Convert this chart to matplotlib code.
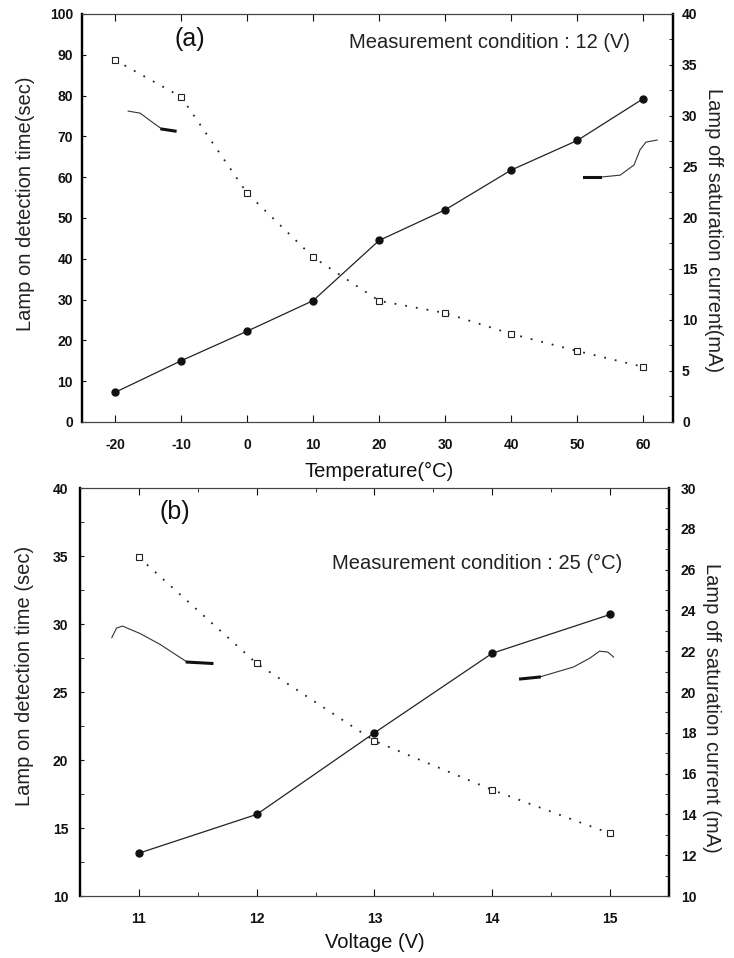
import matplotlib
matplotlib.use("Agg")
import matplotlib.pyplot as plt
from matplotlib.ticker import MultipleLocator
import numpy as np

plt.rcParams['font.family'] = ['Liberation Sans', 'DejaVu Sans']
plt.rcParams['axes.unicode_minus'] = False

# ---------- data: panel (a) ----------
temp = [-20, -10, 0, 10, 20, 30, 40, 50, 60]
on_time_a = [88.7, 79.7, 56.1, 40.4, 29.7, 26.7, 21.6, 17.4, 13.5]     # left axis (sec)
off_curr_a = [2.9, 6.0, 8.9, 11.9, 17.8, 20.8, 24.7, 27.6, 31.7]       # right axis (mA)
temp_ticks = [-20, -10, 0, 10, 20, 30, 40, 50, 60]

# ---------- data: panel (b) ----------
volt = [11, 12, 13, 14, 15]
on_time_b = [34.9, 27.1, 21.4, 17.8, 14.6]        # left axis (sec)
off_curr_b = [12.1, 14.0, 18.0, 21.9, 23.8]       # right axis (mA)
volt_ticks = [11, 12, 13, 14, 15]

# annotation curves (data coords)
ann_a_left_x = [-18.0, -16.2, -14.2, -12.9, -10.9]
ann_a_left_y = [76.2, 75.7, 73.3, 71.8, 71.3]
ann_a_right_x = [51.0, 53.4, 56.5, 58.6, 59.5, 60.4, 62.1]
ann_a_right_y = [60.0, 60.0, 60.5, 63.0, 66.7, 68.6, 69.1]
ann_b_left_x = [10.77, 10.81, 10.86, 11.01, 11.18, 11.41, 11.62]
ann_b_left_y = [29.0, 29.7, 29.85, 29.3, 28.5, 27.2, 27.1]
ann_b_right_x = [14.24, 14.40, 14.69, 14.83, 14.91, 14.98, 15.03]
ann_b_right_y = [25.96, 26.1, 26.84, 27.5, 28.0, 27.94, 27.57]

fig = plt.figure(figsize=(7.34, 9.58), dpi=100)

dot_style = dict(color='#222222', linestyle=(0, (1, 5)), linewidth=1.3)
line_style = dict(color='#222222', linestyle='-', linewidth=0.9)
LABEL_FS = 14.5
TICK_FS = 10


def style_axes(ax, ax2, ypad):
    for a in (ax, ax2):
        for s in ('top', 'bottom'):
            a.spines[s].set_linewidth(0.8)
            a.spines[s].set_color('#444444')
        a.spines['left'].set_linewidth(1.6)
        a.spines['right'].set_linewidth(1.6)
    ax.tick_params(axis='x', which='both', direction='in', top=True, bottom=True,
                   labelsize=TICK_FS, pad=11.5, colors='#111111')
    ax.tick_params(axis='x', which='major', length=5)
    ax.tick_params(axis='x', which='minor', length=3)
    ax.tick_params(axis='y', which='both', direction='in', left=True, right=False,
                   labelsize=TICK_FS, colors='#111111', length=3, pad=ypad)
    ax2.tick_params(axis='y', which='both', direction='in', right=True,
                    labelsize=TICK_FS, colors='#111111', length=3, pad=ypad)
    for lab in ax.get_xticklabels() + ax.get_yticklabels() + ax2.get_yticklabels():
        lab.set_fontweight('bold')


# ---------------- panel (a) ----------------
ax = fig.add_axes([0.1117, 0.5595, 0.8052, 0.4259])
ax2 = ax.twinx()
ax.set_xlim(-25, 64.5)
ax.set_ylim(0, 100)
ax2.set_ylim(0, 40)
ax.set_xticks(temp_ticks)
ax.set_yticks(np.arange(0, 101, 10))
ax2.set_yticks(np.arange(0, 41, 5))
ax2.yaxis.set_minor_locator(MultipleLocator(2.5))
style_axes(ax, ax2, 6.5)

ax.plot(temp, on_time_a, marker='s', markersize=4, markerfacecolor='white',
        markeredgecolor='#222222', markeredgewidth=0.8, **dot_style)
ax2.plot(temp, off_curr_a, marker='o', markersize=5, markerfacecolor='#111111',
         markeredgecolor='#111111', **line_style)

ax.plot(ann_a_left_x, ann_a_left_y, color='#333333', lw=0.8)
ax.plot(ann_a_left_x[-2:], ann_a_left_y[-2:], color='#111111', lw=2.2)
ax.plot(ann_a_right_x, ann_a_right_y, color='#333333', lw=0.8)
ax.plot(ann_a_right_x[:2], ann_a_right_y[:2], color='#111111', lw=2.2)

ax.text(0.183, 0.939, '(a)', transform=ax.transAxes, fontsize=18,
        ha='center', va='center', color='#111111')
ax.text(0.69, 0.929, 'Measurement condition : 12 (V)', transform=ax.transAxes,
        fontsize=LABEL_FS, ha='center', va='center', color='#222222')
ax.set_xlabel('Temperature(°C)', fontsize=LABEL_FS, color='#111111')
ax.xaxis.set_label_coords(0.5025, -0.097)
ax.set_ylabel('Lamp on detection time(sec)', fontsize=LABEL_FS, color='#222222',
              va='center')
ax.yaxis.set_label_coords(-0.0964, 0.536)
ax2.set_ylabel('Lamp off saturation current(mA)', fontsize=LABEL_FS, rotation=270,
               color='#222222', va='center')
ax2.yaxis.set_label_coords(1.068, 0.47)

# ---------------- panel (b) ----------------
bx = fig.add_axes([0.109, 0.0647, 0.8024, 0.4259])
bx2 = bx.twinx()
bx.set_xlim(10.5, 15.5)
bx.set_ylim(10, 40)
bx2.set_ylim(10, 30)
bx.set_xticks(volt_ticks)
bx.xaxis.set_minor_locator(MultipleLocator(0.5))
bx.set_yticks(np.arange(10, 41, 5))
bx.yaxis.set_minor_locator(MultipleLocator(2.5))
bx2.set_yticks(np.arange(10, 31, 2))
bx2.yaxis.set_minor_locator(MultipleLocator(1))
style_axes(bx, bx2, 8.5)

bx.plot(volt, on_time_b, marker='s', markersize=4, markerfacecolor='white',
        markeredgecolor='#222222', markeredgewidth=0.8, **dot_style)
bx2.plot(volt, off_curr_b, marker='o', markersize=5, markerfacecolor='#111111',
         markeredgecolor='#111111', **line_style)

bx.plot(ann_b_left_x, ann_b_left_y, color='#333333', lw=0.8)
bx.plot(ann_b_left_x[-2:], ann_b_left_y[-2:], color='#111111', lw=2.2)
bx.plot(ann_b_right_x, ann_b_right_y, color='#333333', lw=0.8)
bx.plot(ann_b_right_x[:2], ann_b_right_y[:2], color='#111111', lw=2.2)

bx.text(0.161, 0.941, '(b)', transform=bx.transAxes, fontsize=18,
        ha='center', va='center', color='#111111')
bx.text(0.674, 0.816, 'Measurement condition : 25 (°C)', transform=bx.transAxes,
        fontsize=LABEL_FS, ha='center', va='center', color='#222222')
bx.set_xlabel('Voltage (V)', fontsize=LABEL_FS, color='#111111')
bx.xaxis.set_label_coords(0.50, -0.0907)
bx.set_ylabel('Lamp on detection time (sec)', fontsize=LABEL_FS, color='#222222',
              va='center')
bx.yaxis.set_label_coords(-0.0934, 0.539)
bx2.set_ylabel('Lamp off saturation current (mA)', fontsize=LABEL_FS, rotation=270,
               color='#222222', va='center')
bx2.yaxis.set_label_coords(1.073, 0.46)

fig.savefig('out.png', dpi=100)
